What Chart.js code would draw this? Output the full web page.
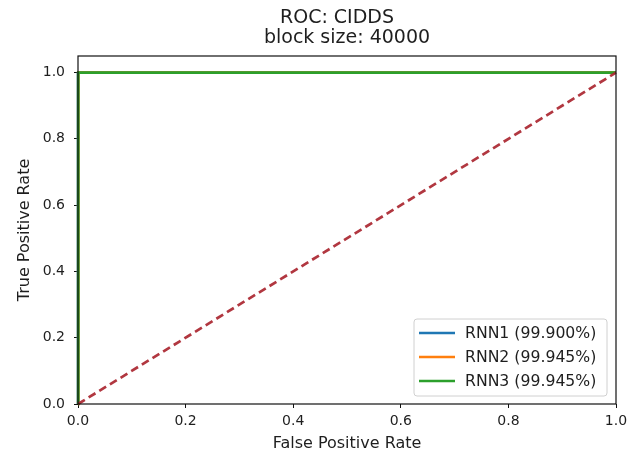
<!DOCTYPE html>
<html>
<head>
<meta charset="utf-8">
<script src="https://cdn.jsdelivr.net/npm/chart.js@4.4.1/dist/chart.umd.min.js"></script>
<style>
  html, body { margin: 0; padding: 0; background: #fff; }
  #wrap { width: 639px; height: 455px; }
</style>
</head>
<body>
<div id="wrap"><canvas id="roc"></canvas></div>
<script>
// datos de la figura
const titleLines = ['ROC: CIDDS', 'block size: 40000']
const seriesNames = ['RNN1 (99.900%)', 'RNN2 (99.945%)', 'RNN3 (99.945%)']
const seriesColors = ['#1f77b4', '#ff7f0e', '#2ca02c']
const fprRNN1 = [0, 0, 0.002, 1]
const tprRNN1 = [0, 0.998, 1, 1]
const fprRNN2 = [0, 0, 0.001, 1]
const tprRNN2 = [0, 0.999, 1, 1]
const fprRNN3 = [0, 0, 0.001, 1]
const tprRNN3 = [0, 0.999, 1, 1]
const fprChance = [0, 1]
const tprChance = [0, 1]
const tickValues = [0, 0.2, 0.4, 0.6, 0.8, 1.0]

const toPoints = (xs, ys) => xs.map((x, i) => ({ x: x, y: ys[i] }))
const curves = [
	toPoints(fprRNN1, tprRNN1),
	toPoints(fprRNN2, tprRNN2),
	toPoints(fprRNN3, tprRNN3),
]

const FONT = 'DejaVu Sans'
const TEXT = '#1e1e1e'

const datasets = curves.map((pts, i) => ({
	label: seriesNames[i],
	data: pts,
	borderColor: seriesColors[i],
	backgroundColor: seriesColors[i],
	borderWidth: 2.7,
	pointRadius: 0,
	showLine: true,
	clip: 4,
	order: 3 - i,
}))
datasets.push({
	label: '',
	data: toPoints(fprChance, tprChance),
	borderColor: 'rgba(170,38,48,0.92)',
	borderWidth: 2.7,
	borderDash: [8, 4.5],
	pointRadius: 0,
	showLine: true,
	clip: 4,
	order: 0,
})

// titulo, caja y leyenda
const frame = {
	id: 'frame',
	afterDraw(chart) {
		const { ctx, chartArea: a } = chart
		ctx.save()
		ctx.strokeStyle = '#111'
		ctx.lineWidth = 1.2
		ctx.strokeRect(a.left, a.top, a.right - a.left, a.bottom - a.top)

		// titulo
		const cx = (a.left + a.right) / 2
		ctx.fillStyle = TEXT
		ctx.font = `19px "${FONT}"`
		ctx.textAlign = 'center'
		ctx.textBaseline = 'middle'
		ctx.fillText(titleLines[0], cx - 10, 18)
		ctx.fillText(titleLines[1], cx, 38.5)

		// leyenda
		const items = chart.data.datasets.filter((d) => d.label)
		const boxW = 193
		const boxH = 77
		const x0 = a.right - 9 - boxW
		const y0 = a.bottom - 8 - boxH
		ctx.beginPath()
		ctx.roundRect(x0, y0, boxW, boxH, 3)
		ctx.fillStyle = 'rgba(255,255,255,0.85)'
		ctx.fill()
		ctx.lineWidth = 1
		ctx.strokeStyle = '#d0d0d0'
		ctx.stroke()
		ctx.font = `15.7px "${FONT}"`
		ctx.textAlign = 'left'
		items.forEach((d, i) => {
			const y = y0 + 14 + i * 24
			ctx.beginPath()
			ctx.strokeStyle = d.borderColor
			ctx.lineWidth = 2.7
			ctx.moveTo(x0 + 5, y)
			ctx.lineTo(x0 + 41, y)
			ctx.stroke()
			ctx.fillStyle = TEXT
			ctx.fillText(d.label, x0 + 51, y + 1)
		})
		ctx.restore()
	},
}

const ctx = document.getElementById('roc').getContext('2d')
const chart = new Chart(ctx, {
	type: 'scatter',
	data: { datasets: datasets },
	options: {
		responsive: true,
		maintainAspectRatio: false,
		animation: false,
		devicePixelRatio: 1,
		layout: { padding: { top: 56, right: 23, left: 0, bottom: 0 } },
		plugins: {
			legend: { display: false },
			tooltip: { enabled: false },
			title: { display: false },
		},
		scales: {
			x: {
				type: 'linear',
				min: 0,
				max: 1,
				afterBuildTicks: (s) => { s.ticks = tickValues.map((v) => ({ value: v })) },
				afterFit: (s) => { s.height = 51 },
				border: { display: false },
				grid: { drawOnChartArea: false, drawTicks: true, tickLength: 4, tickColor: '#111' },
				ticks: {
					padding: 5,
					color: TEXT,
					font: { family: FONT, size: 14 },
					callback: (v) => Number(v).toFixed(1),
					maxRotation: 0,
				},
				title: {
					display: true,
					text: 'False Positive Rate',
					color: TEXT,
					font: { family: FONT, size: 16 },
					padding: { top: 0, bottom: 2 },
				},
			},
			y: {
				type: 'linear',
				min: 0,
				max: 1.05,
				afterBuildTicks: (s) => { s.ticks = tickValues.map((v) => ({ value: v })) },
				afterFit: (s) => { s.width = 78 },
				border: { display: false },
				grid: { drawOnChartArea: false, drawTicks: true, tickLength: 4, tickColor: '#111' },
				ticks: {
					padding: 9,
					color: TEXT,
					font: { family: FONT, size: 14 },
					callback: (v) => Number(v).toFixed(1),
				},
				title: {
					display: true,
					text: 'True Positive Rate',
					color: TEXT,
					font: { family: FONT, size: 16 },
					padding: { top: 15, bottom: 0 },
				},
			},
		},
	},
	plugins: [frame],
})
</script>
</body>
</html>
